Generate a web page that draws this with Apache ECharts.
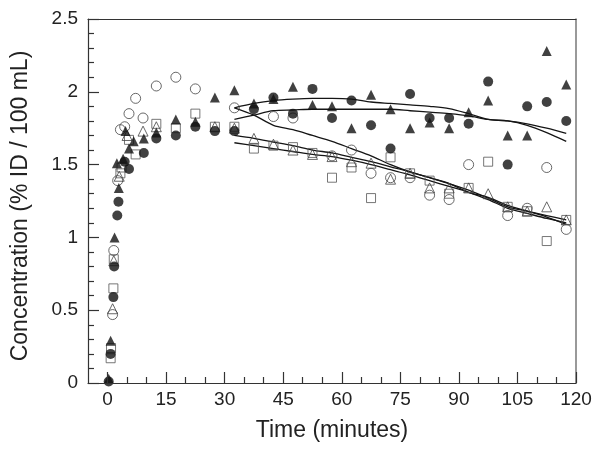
<!DOCTYPE html>
<html>
<head>
<meta charset="utf-8">
<script src="https://cdn.jsdelivr.net/npm/echarts@6/dist/echarts.min.js"></script>
<style>html,body{margin:0;padding:0;background:#fff;}#c{width:601px;height:456px;}</style>
</head>
<body>
<div id="c"></div>
<script>
// ---- data (time in minutes, concentration in %ID/100 mL) ----
var xMajorTicks = [0, 15, 30, 45, 60, 75, 90, 105, 120];
var xMinorTicks = [5, 10, 20, 25, 35, 40, 50, 55, 65, 70, 80, 85, 95, 100, 110, 115];
var yTicks = [0, 0.5, 1, 1.5, 2, 2.5];

var openCircles = [[1.3,0.47],[1.6,0.91],[2.6,1.39],[3.3,1.74],[4.4,1.76],[5.5,1.85],[7.2,1.955],[9.1,1.82],[12.5,2.04],[17.5,2.10],[22.5,2.02],[32.5,1.89],[42.5,1.83],[47.5,1.82],[57.5,1.56],[62.5,1.60],[67.5,1.44],[72.5,1.41],[77.5,1.41],[82.5,1.29],[87.5,1.26],[92.5,1.50],[102.5,1.15],[107.5,1.20],[112.5,1.48],[117.5,1.055]];
var filledCircles = [[0.3,0.01],[0.8,0.20],[1.5,0.59],[1.7,0.80],[2.5,1.15],[2.8,1.245],[4.4,1.52],[5.5,1.47],[9.3,1.58],[12.5,1.68],[17.5,1.70],[22.5,1.76],[27.5,1.73],[32.5,1.73],[37.5,1.88],[42.5,1.96],[47.5,1.85],[52.5,2.02],[57.5,1.82],[62.5,1.94],[67.5,1.77],[72.5,1.61],[77.5,1.985],[82.5,1.82],[87.5,1.82],[92.5,1.78],[97.5,2.07],[102.5,1.50],[107.5,1.90],[112.5,1.93],[117.5,1.80]];
var openTriangles = [[1.3,0.51],[1.6,0.84],[3.0,1.42],[5.0,1.70],[9.1,1.73],[12.5,1.76],[27.5,1.76],[32.5,1.75],[37.5,1.68],[42.5,1.64],[47.5,1.60],[52.5,1.57],[57.5,1.555],[62.5,1.52],[67.5,1.51],[72.5,1.40],[77.5,1.44],[82.5,1.34],[87.5,1.34],[92.5,1.34],[97.5,1.30],[102.5,1.21],[107.5,1.18],[112.5,1.21],[117.5,1.12]];
var filledTriangles = [[0.3,0.03],[0.8,0.29],[1.8,1.00],[2.4,1.51],[2.9,1.34],[4.0,1.54],[4.6,1.73],[5.5,1.61],[6.7,1.66],[9.3,1.68],[12.5,1.72],[17.5,1.81],[22.5,1.795],[27.5,1.96],[32.5,2.01],[37.5,1.92],[42.5,1.95],[47.5,2.035],[52.5,1.91],[57.5,1.90],[62.5,1.75],[67.5,1.98],[72.5,1.88],[77.5,1.75],[82.5,1.79],[87.5,1.75],[92.5,1.86],[97.5,1.94],[102.5,1.70],[107.5,1.70],[112.5,2.28],[117.5,2.05]];
var openSquares = [[0.8,0.17],[0.9,0.24],[1.5,0.65],[1.6,0.85],[3.3,1.44],[3.6,1.48],[5.5,1.67],[7.2,1.57],[12.5,1.78],[17.5,1.75],[22.5,1.85],[27.5,1.76],[32.5,1.76],[37.5,1.61],[42.5,1.63],[47.5,1.62],[52.5,1.58],[57.5,1.41],[62.5,1.48],[67.5,1.27],[72.5,1.55],[77.5,1.44],[82.5,1.39],[87.5,1.30],[92.5,1.34],[97.5,1.52],[102.5,1.21],[107.5,1.18],[112.5,0.975],[117.5,1.12]];

var fitTimes = [32.5,37.5,42.5,47.5,52.5,57.5,62.5,67.5,72.5,77.5,82.5,87.5,92.5,97.5,102.5,107.5,112.5,117.5];
var fitA = [1.89,1.92,1.94,1.95,1.955,1.955,1.95,1.93,1.92,1.91,1.90,1.885,1.85,1.81,1.80,1.77,1.72,1.66];
var fitB = [1.81,1.84,1.87,1.875,1.88,1.88,1.88,1.88,1.88,1.87,1.86,1.85,1.835,1.81,1.80,1.78,1.75,1.715];
var fitC = [1.89,1.84,1.77,1.74,1.70,1.66,1.61,1.56,1.50,1.45,1.41,1.37,1.31,1.275,1.22,1.18,1.14,1.09];
var fitD = [1.70,1.68,1.655,1.63,1.60,1.58,1.55,1.52,1.485,1.45,1.41,1.37,1.325,1.27,1.21,1.18,1.15,1.12];
var fitE = [1.65,1.63,1.61,1.59,1.57,1.555,1.53,1.50,1.465,1.43,1.39,1.35,1.31,1.26,1.20,1.165,1.13,1.10];

function pairs(ts, vs){ return ts.map(function(t,i){ return [t, vs[i]]; }); }

var FONT = 'Liberation Sans, Arial, Helvetica, sans-serif';
var AX = '#333';
var chart = echarts.init(document.getElementById('c'), null, {renderer:'canvas'});

function scat(name, data, symbol, size, filled, color){
  return {
    name: name, type: 'scatter', data: data, symbol: symbol, symbolSize: size,
    itemStyle: filled ? {color: color} : {color: 'rgba(0,0,0,0)', borderColor: color, borderWidth: 1},
    emphasis: {disabled: true}, z: 3
  };
}
function fit(name, vals){
  return {
    name: name, type: 'line', data: pairs(fitTimes, vals), showSymbol: false, smooth: 0.3,
    lineStyle: {color: '#151515', width: 1.3}, emphasis: {disabled: true}, z: 2
  };
}

chart.setOption({
  animation: false,
  backgroundColor: '#fff',
  grid: {left: 88, right: 25, top: 19, bottom: 73, show: false},
  xAxis: [{
    type: 'value', min: -5, max: 120, position: 'bottom',
    name: 'Time (minutes)', nameLocation: 'middle', nameGap: 36,
    nameTextStyle: {fontFamily: FONT, fontSize: 23, color: '#222'},
    axisLine: {show: true, onZero: false, lineStyle: {color: AX, width: 1.2}},
    axisTick: {show: true, inside: true, length: 11, customValues: xMajorTicks, lineStyle: {color: AX, width: 1.2}},
    axisLabel: {customValues: xMajorTicks, fontFamily: FONT, fontSize: 19, color: '#222', margin: 7},
    splitLine: {show: false}, z: 5
  },{
    type: 'value', min: -5, max: 120, position: 'bottom',
    axisLine: {show: false, onZero: false},
    axisTick: {show: true, inside: true, length: 6, customValues: xMinorTicks, lineStyle: {color: AX, width: 1.2}},
    axisLabel: {show: false},
    splitLine: {show: false}, z: 5
  },{
    type: 'value', min: -5, max: 120, position: 'top',
    axisLine: {show: true, onZero: false, lineStyle: {color: AX, width: 1.2}},
    axisTick: {show: false}, axisLabel: {show: false}, splitLine: {show: false}, z: 5
  }],
  yAxis: [{
    type: 'value', min: 0, max: 2.5, interval: 0.5, position: 'left',
    name: 'Concentration (% ID / 100 mL)', nameLocation: 'middle', nameGap: 56,
    nameTextStyle: {fontFamily: FONT, fontSize: 23, color: '#222', padding: [0, 10, 0, 0]},
    axisLine: {show: true, onZero: false, lineStyle: {color: AX, width: 1.2}},
    axisTick: {show: true, inside: true, length: 11, lineStyle: {color: AX, width: 1.2}},
    minorTick: {show: true, splitNumber: 5, length: 6, lineStyle: {color: AX, width: 1.2}},
    axisLabel: {fontFamily: FONT, fontSize: 19, color: '#222', margin: 10,
      formatter: function(v){ return yTicks.indexOf(v) >= 0 ? String(v) : ''; }},
    splitLine: {show: false}, z: 5
  },{
    type: 'value', min: 0, max: 2.5, interval: 0.5, position: 'right',
    axisLine: {show: true, onZero: false, lineStyle: {color: '#777', width: 1.5}},
    axisTick: {show: false}, axisLabel: {show: false}, splitLine: {show: false}, z: 5
  }],
  series: [
    fit('fitA', fitA), fit('fitB', fitB), fit('fitC', fitC), fit('fitD', fitD), fit('fitE', fitE),
    scat('open circles', openCircles, 'circle', 10, false, '#444'),
    scat('open squares', openSquares, 'rect', 9, false, '#555'),
    scat('open triangles', openTriangles, 'triangle', 10, false, '#444'),
    scat('filled circles', filledCircles, 'circle', 10, true, '#111'),
    scat('filled triangles', filledTriangles, 'triangle', 10, true, '#111')
  ]
});
</script>
</body>
</html>
